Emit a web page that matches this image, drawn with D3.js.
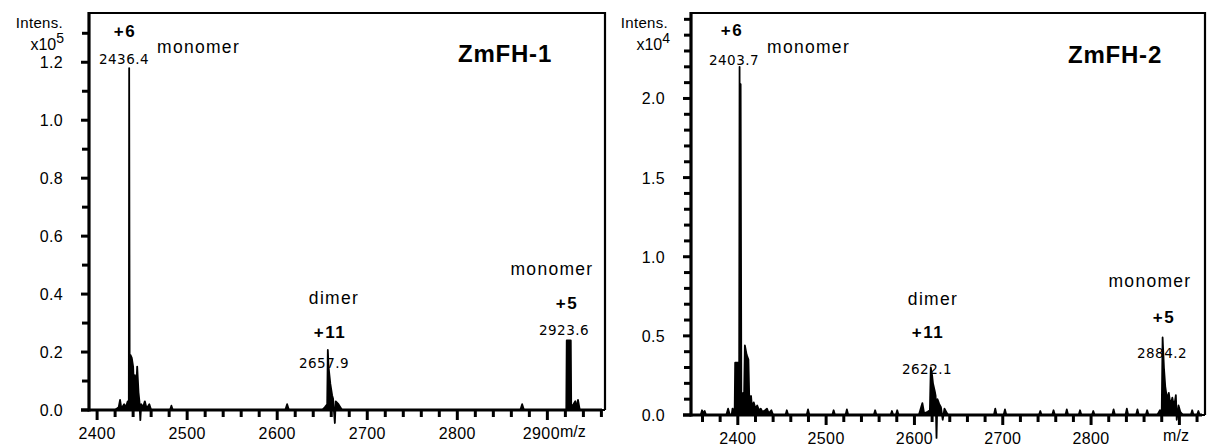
<!DOCTYPE html>
<html>
<head>
<meta charset="utf-8">
<script src="https://cdn.jsdelivr.net/npm/d3@7"></script>
<style>
  html, body { margin: 0; padding: 0; background: #fff; }
  svg { display: block; }
</style>
</head>
<body>
<svg id="chart" width="1210" height="446"></svg>
<script>
// ---------------- DATA ----------------
const panelTitles = ["ZmFH-1", "ZmFH-2"];
const intensityExponents = ["5", "4"];

const xTicks1 = [2400, 2500, 2600, 2700, 2800, 2900];
const xTickLabels1 = ["2400", "2500", "2600", "2700", "2800", "2900"];
const xTicks2 = [2400, 2500, 2600, 2700, 2800];
const xTickLabels2 = ["2400", "2500", "2600", "2700", "2800"];

const yTicks1 = [0, 0.2, 0.4, 0.6, 0.8, 1.0, 1.2];
const yTickLabels1 = ["0.0", "0.2", "0.4", "0.6", "0.8", "1.0", "1.2"];
const yTicks2 = [0, 0.5, 1.0, 1.5, 2.0];
const yTickLabels2 = ["0.0", "0.5", "1.0", "1.5", "2.0"];

// Spectrum ZmFH-1 (intensity x10^5)
const mz1 = [2391, 2420, 2424, 2425.5, 2427, 2430, 2432, 2434, 2435.2, 2435.6, 2436.2, 2437, 2438.5, 2440,
  2441, 2442, 2443, 2444.5, 2446, 2447, 2448, 2449, 2451, 2453, 2455, 2458, 2460,
  2481, 2482.5, 2484, 2609, 2611, 2613,
  2650, 2653, 2655.5, 2656.2, 2657, 2658, 2659, 2660, 2661, 2662, 2664, 2665, 2668, 2672,
  2870, 2872, 2874,
  2921, 2921.5, 2926, 2926.5, 2929, 2931, 2932, 2934, 2936, 2964];
const int1 = [0, 0, 0.01, 0.035, 0.005, 0.02, 0.01, 0.03, 0.02, 1.18, 0.03, 0.19, 0.18, 0.15,
  0.07, 0.12, 0.04, 0.15, 0.06, 0.03, -0.035, 0.02, 0.01, 0.03, 0.005, 0.02, 0,
  0, 0.015, 0, 0, 0.02, 0,
  0, 0.01, 0.02, 0.207, 0.15, 0.12, 0.09, 0.07, 0.05, 0.04, -0.045, 0.03, 0.02, 0,
  0, 0.02, 0,
  0, 0.24, 0.24, 0.01, 0.02, 0.03, 0.005, 0.035, 0, 0];

// Spectrum ZmFH-2 (intensity x10^4)
const mz2 = [2347, 2358, 2359.5, 2361, 2362.5, 2364, 2387, 2389, 2391, 2393, 2394, 2395, 2396.5,
  2397, 2401, 2401.5, 2402, 2402.6, 2403.2, 2404, 2405, 2406, 2407, 2408, 2410, 2412, 2413,
  2415, 2416, 2418, 2420, 2422, 2424, 2426, 2428, 2431, 2433, 2435, 2438, 2440,
  2454, 2455.5, 2457, 2478, 2479.5, 2481, 2507, 2508.5, 2510, 2522, 2523.5, 2525,
  2554, 2555.5, 2557, 2573, 2574.5, 2576, 2579, 2580.5, 2582,
  2605, 2609, 2611, 2615, 2617.5, 2618.5, 2620, 2621, 2623, 2624, 2625, 2626, 2628, 2630,
  2632, 2634, 2636, 2638,
  2690, 2691.5, 2693, 2701, 2702.5, 2704, 2741, 2742.5, 2744, 2756, 2757.5, 2759,
  2771, 2772.5, 2774, 2786, 2787.5, 2789, 2801, 2802.5, 2804, 2824, 2825.5, 2827,
  2839, 2840.5, 2842, 2851, 2852.5, 2854, 2862, 2863.5, 2865,
  2875, 2878, 2880, 2881, 2882.5, 2884, 2886, 2888, 2890, 2892, 2894, 2896, 2897, 2899,
  2901, 2904, 2913, 2914.5, 2916, 2920, 2921.5, 2923, 2929];
const int2 = [0, 0, 0.03, 0.01, 0.025, 0, 0, 0.04, 0, 0, 0.04, 0.01, 0.05,
  0.33, 0.33, 0.1, 2.2, 0.15, 2.09, 0.12, 0.1, 0.14, 0.08, 0.44, 0.38, 0.35, 0.1,
  0.12, 0.05, 0.08, 0.04, 0.06, 0.03, 0.04, 0.02, 0.03, 0.04, 0.01, 0.03, 0,
  0, 0.03, 0, 0, 0.035, 0, 0, 0.03, 0, 0, 0.035, 0,
  0, 0.03, 0, 0, 0.025, 0, 0, 0.03, 0,
  0, 0.075, 0.01, 0.02, 0.03, 0.30, 0.25, 0.2, 0.15, 0.12, -0.145, 0.1, 0.07, 0.05,
  -0.03, 0.04, 0.02, 0,
  0, 0.04, 0, 0, 0.035, 0, 0, 0.025, 0, 0, 0.03, 0,
  0, 0.035, 0, 0, 0.03, 0, 0, 0.025, 0, 0, 0.035, 0,
  0, 0.04, 0, 0, 0.035, 0, 0, 0.03, 0,
  0, 0.03, 0.02, 0.49, 0.3, 0.18, 0.1, 0.14, 0.06, 0.11, 0.05, 0.125, -0.03, 0.06,
  0.02, 0, 0, 0.03, 0, 0, 0.025, 0, 0];

const peakMzLabels1 = ["2436.4", "2657.9", "2923.6"];
const peakCharges1 = ["+6", "+11", "+5"];
const peakSpecies1 = ["monomer", "dimer", "monomer"];
const peakMzLabels2 = ["2403.7", "2622.1", "2884.2"];
const peakCharges2 = ["+6", "+11", "+5"];
const peakSpecies2 = ["monomer", "dimer", "monomer"];

// ---------------- LAYOUT ----------------
const layouts = [
  { left: 89, top: 13, right: 605, bottom: 410, xDomain: [2391, 2964], yDomain: [0, 1.37], yMinorMax: 1.3,
    xMinorMin: 2400, xMinorMax: 2960,
    intensX: 63, expX: 64, titleX: 505, titleY: 62, mzLabelX: 560, hideLastTick: false,
    labels: [
      { c: [125, 37], m: [124, 64], s: [157, 53, "start"] },
      { c: [330, 338], m: [324, 368], s: [334, 304, "middle"] },
      { c: [567, 309], m: [564, 335], s: [552, 275, "middle"] } ] },
  { left: 691, top: 13, right: 1205, bottom: 415, xDomain: [2347, 2929], yDomain: [0, 2.54], yMinorMax: 2.5,
    xMinorMin: 2360, xMinorMax: 2920,
    intensX: 668, expX: 670, titleX: 1115, titleY: 63, mzLabelX: 1176, hideLastTick: true,
    labels: [
      { c: [732, 36], m: [734, 65], s: [767, 53, "start"] },
      { c: [928, 338], m: [927, 374], s: [933, 305, "middle"] },
      { c: [1164, 323], m: [1162, 358], s: [1150, 287, "middle"] } ] }
];

const panelsData = [
  { mz: mz1, inten: int1, xTicks: xTicks1, xLabels: xTickLabels1, yTicks: yTicks1, yLabels: yTickLabels1,
    pm: peakMzLabels1, pc: peakCharges1, ps: peakSpecies1 },
  { mz: mz2, inten: int2, xTicks: xTicks2, xLabels: xTickLabels2, yTicks: yTicks2, yLabels: yTickLabels2,
    pm: peakMzLabels2, pc: peakCharges2, ps: peakSpecies2 }
];

const svg = d3.select("#chart");
svg.append("rect").attr("width", 1210).attr("height", 446).attr("fill", "#fff");

const sansFont = "'Liberation Sans', Arial, sans-serif";
const numFont = "'DejaVu Sans', sans-serif";

panelsData.forEach((pd, i) => {
  const L = layouts[i];
  const g = svg.append("g");
  const x = d3.scaleLinear().domain(L.xDomain).range([L.left, L.right]);
  const y = d3.scaleLinear().domain(L.yDomain).range([L.bottom, L.top]);

  // frame top/right
  g.append("path")
    .attr("d", `M${L.left},${L.top}H${L.right}V${L.bottom}`)
    .attr("fill", "none").attr("stroke", "#000").attr("stroke-width", 2.2);

  // spectrum
  const pts = pd.mz.map((m, k) => [m, pd.inten[k]]);
  g.append("path").datum(pts)
    .attr("d", d3.area().x(d => x(d[0])).y0(y(0)).y1(d => y(d[1])))
    .attr("fill", "#000");
  g.append("path").datum(pts)
    .attr("d", d3.line().x(d => x(d[0])).y(d => y(d[1])))
    .attr("fill", "none").attr("stroke", "#000").attr("stroke-width", 1.8).attr("stroke-linejoin", "round");

  // x axis ticks (from scale)
  const xMinor = d3.range(L.xMinorMin, L.xMinorMax + 0.1, 20)
    .filter(v => !pd.xTicks.includes(v) && !(L.hideLastTick && v === 2900));
  const xMajor = L.hideLastTick ? pd.xTicks.concat([2900]) : pd.xTicks;
  g.append("g").selectAll("line").data(xMinor).join("line")
    .attr("x1", d => x(d)).attr("x2", d => x(d))
    .attr("y1", L.bottom).attr("y2", L.bottom + 7)
    .attr("stroke", "#000").attr("stroke-width", 3);
  g.append("g").selectAll("line").data(xMajor).join("line")
    .attr("x1", d => x(d)).attr("x2", d => x(d))
    .attr("y1", L.bottom).attr("y2", L.bottom + 10)
    .attr("stroke", "#000").attr("stroke-width", 3);
  g.append("g").selectAll("text").data(pd.xTicks).join("text")
    .attr("x", (d) => x(d) + ((!L.hideLastTick && d === 2900) ? -6 : 0))
    .attr("y", L.bottom + 29)
    .attr("text-anchor", "middle")
    .attr("font-family", sansFont).attr("font-size", 16).attr("fill", "#000")
    .attr("letter-spacing", 0.4)
    .text((d, k) => pd.xLabels[k]);

  g.append("line").attr("x1", L.left - 8).attr("x2", L.right - 3)
    .attr("y1", L.bottom).attr("y2", L.bottom).attr("stroke", "#000").attr("stroke-width", 3.2);

  // y axis ticks (from scale)
  const yMinor = d3.range(0.1, L.yMinorMax + 0.001, 0.1).map(v => +v.toFixed(2))
    .filter(v => !pd.yTicks.some(t => Math.abs(t - v) < 1e-6));
  g.append("g").selectAll("line").data(yMinor).join("line")
    .attr("x1", L.left - 7).attr("x2", L.left)
    .attr("y1", d => y(d)).attr("y2", d => y(d))
    .attr("stroke", "#000").attr("stroke-width", 3);
  g.append("g").selectAll("line").data(pd.yTicks).join("line")
    .attr("x1", L.left - 8).attr("x2", L.left)
    .attr("y1", d => y(d)).attr("y2", d => y(d))
    .attr("stroke", "#000").attr("stroke-width", 3);
  g.append("g").selectAll("text").data(pd.yTicks).join("text")
    .attr("x", L.left - 26).attr("y", d => y(d) + 6)
    .attr("text-anchor", "end")
    .attr("font-family", sansFont).attr("font-size", 16).attr("fill", "#000")
    .attr("letter-spacing", 0.3)
    .text((d, k) => pd.yLabels[k]);

  g.append("line").attr("x1", L.left).attr("x2", L.left)
    .attr("y1", L.top - 1).attr("y2", L.bottom + 1.5).attr("stroke", "#000").attr("stroke-width", 3.2);

  // m/z label
  g.append("text").attr("x", L.mzLabelX).attr("y", i === 0 ? 437 : 441)
    .attr("text-anchor", i === 0 ? "start" : "middle")
    .attr("font-family", sansFont).attr("font-size", 16).attr("fill", "#000").text("m/z");

  // Intens. label
  g.append("text").attr("x", L.intensX).attr("y", 28).attr("text-anchor", "end")
    .attr("font-family", sansFont).attr("font-size", 15).attr("letter-spacing", 0.3).attr("fill", "#000").text("Intens.");
  const ex = g.append("text").attr("x", L.expX).attr("y", 50).attr("text-anchor", "end")
    .attr("font-family", sansFont).attr("font-size", 16).attr("fill", "#000");
  ex.append("tspan").text("x10");
  ex.append("tspan").attr("dy", -7).attr("font-size", 14).text(intensityExponents[i]);

  // title
  g.append("text").attr("x", L.titleX).attr("y", L.titleY).attr("text-anchor", "middle")
    .attr("font-family", sansFont).attr("font-weight", "bold").attr("font-size", 24)
    .attr("letter-spacing", 0.8).attr("fill", "#000").text(panelTitles[i]);

  // peak labels
  L.labels.forEach((lb, k) => {
    g.append("text").attr("x", lb.c[0]).attr("y", lb.c[1]).attr("text-anchor", "middle")
      .attr("font-family", sansFont).attr("font-weight", "bold").attr("font-size", 17)
      .attr("letter-spacing", 1.5).attr("fill", "#000").text(pd.pc[k]);
    g.append("text").attr("x", lb.m[0]).attr("y", lb.m[1]).attr("text-anchor", "middle")
      .attr("font-family", numFont).attr("font-size", 13.5)
      .attr("letter-spacing", 0.5).attr("fill", "#000").text(pd.pm[k]);
    g.append("text").attr("x", lb.s[0]).attr("y", lb.s[1]).attr("text-anchor", lb.s[2])
      .attr("font-family", sansFont).attr("font-size", 17.5)
      .attr("letter-spacing", 1.3).attr("fill", "#000").text(pd.ps[k]);
  });
});
</script>
</body>
</html>
